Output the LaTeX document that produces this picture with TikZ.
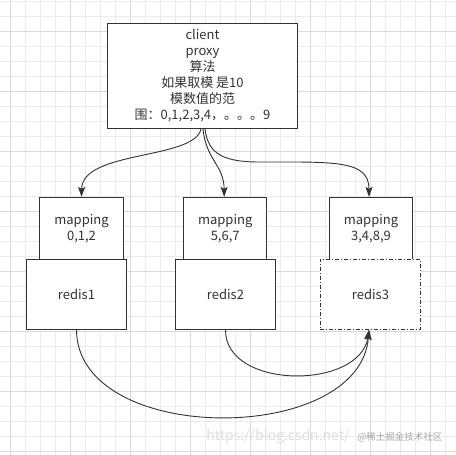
\documentclass[tikz,border=0pt]{standalone}
\usepackage{fontspec}
\setmainfont{Noto Sans CJK SC}
\usetikzlibrary{arrows.meta}
\definecolor{ink}{HTML}{333333}
\definecolor{gridminor}{HTML}{EBEBEB}
\definecolor{gridmajor}{HTML}{DADADA}
\tikzset{
  box/.style={draw=ink, fill=white, line width=0.9pt, inner sep=0pt, text=ink,
    align=center, font=\fontsize{13}{16}\selectfont},
  conn/.style={draw=ink, line width=0.9pt, -{Stealth[length=10pt,width=7pt,inset=2pt]}},
  dashdot/.style={dash pattern=on 4pt off 2pt on 1pt off 2pt},
}
\begin{document}
\begin{tikzpicture}[x=1pt,y=-1pt]
\useasboundingbox (0,0) rectangle (456,455);
\fill[white] (0,0) rectangle (456,455);
% grid
\foreach \i in {0,...,29} {\pgfmathsetmacro\xx{10+15*\i}\draw[gridminor,line width=0.8pt] (\xx,0) -- (\xx,455);}
\foreach \i in {0,...,30} {\pgfmathsetmacro\yy{1.7+15*\i}\draw[gridminor,line width=0.8pt] (0,\yy) -- (456,\yy);}
\foreach \i in {0,...,7} {\pgfmathsetmacro\xx{10+60*\i}\draw[gridmajor,line width=0.8pt] (\xx,0) -- (\xx,455);}
\foreach \i in {0,...,7} {\pgfmathsetmacro\yy{31.7+60*\i}\draw[gridmajor,line width=0.8pt] (0,\yy) -- (456,\yy);}
% nodes
\node[box, minimum width=190.4pt, minimum height=105pt] (top) at (202.5,75.8)
  {client\\proxy\\算法\\如果取模 是10\\模数值的范\\围：0,1,2,3,4，。。。9};
\node[box, minimum width=84.4pt, minimum height=61.7pt] (map1) at (81.5,228.2) {mapping\\0,1,2};
\node[box, minimum width=83pt, minimum height=61.7pt] (map2) at (225.2,228.2) {mapping\\5,6,7};
\node[box, minimum width=83.4pt, minimum height=61.7pt] (map3) at (371,228.2) {mapping\\3,4,8,9};
\node[box, minimum width=100.4pt, minimum height=70.3pt] (red1) at (76.5,294.2) {redis1};
\node[box, minimum width=100.4pt, minimum height=70.3pt] (red2) at (225.5,294.2) {redis2};
\node[box, dashdot, minimum width=100.4pt, minimum height=70.3pt] (red3) at (370.5,294.2) {redis3};
% connectors
\draw[conn] ([xshift=-1.5pt]top.south) .. controls (195,160) and (82,150) .. (map1.north);
\draw[conn] ([xshift=0.5pt]top.south) .. controls (206,160) and (224,165) .. ([xshift=-1pt]map2.north);
\draw[conn] ([xshift=2.5pt]top.south) .. controls (208,155) and (225,162) .. (260,162)
  .. controls (335,162) and (369,160) .. ([xshift=-2pt]map3.north);
\draw[conn] (red1.south) .. controls (77,446) and (360,446) .. ([xshift=-1.5pt]red3.south);
\draw[conn] (red2.south) .. controls (225,390) and (360,390) .. ([xshift=-1.5pt]red3.south);
% watermark
\node[text=gray!25, font=\fontsize{14}{14}\selectfont, inner sep=0pt] (wm1) at (278,437) {https://blog.csdn.net/};
\node[text=gray!70, font=\fontsize{9.5}{10}\selectfont, inner sep=0pt] (wm2) at (400,437) {@稀土掘金技术社区};
\end{tikzpicture}
\end{document}
